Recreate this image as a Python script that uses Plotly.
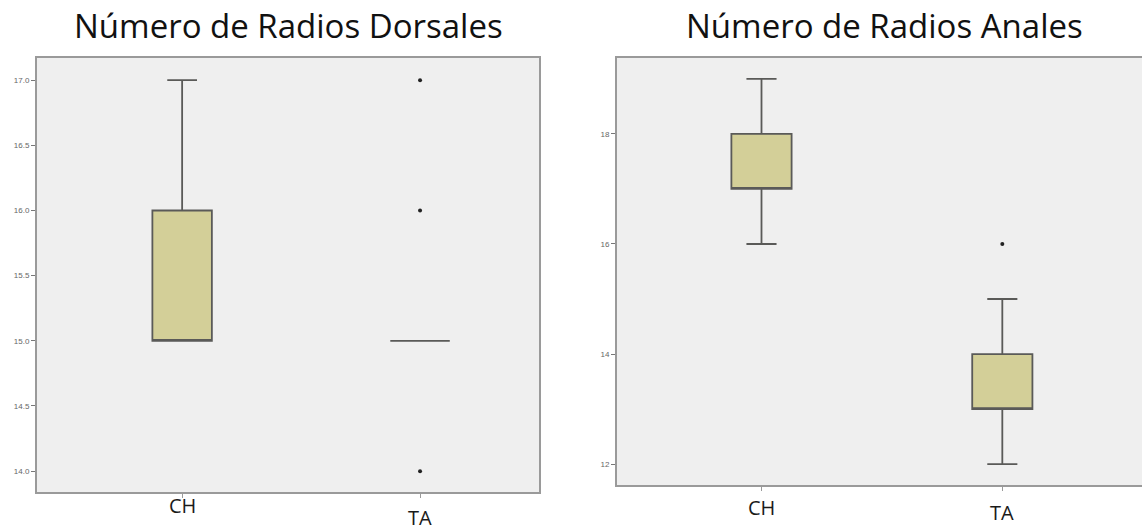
import plotly.graph_objects as go

# Box statistics per group: lower whisker, Q1, median, Q3, upper whisker
groups = ["CH", "TA"]

dorsal_min = [15, 15]
dorsal_q1 = [15, 15]
dorsal_median = [15, 15]
dorsal_q3 = [16, 15]
dorsal_max = [17, 15]
dorsal_outlier_group = ["TA", "TA", "TA"]
dorsal_outlier_value = [17, 16, 14]

anal_min = [16, 12]
anal_q1 = [17, 13]
anal_median = [17, 13]
anal_q3 = [18, 14]
anal_max = [19, 15]
anal_outlier_group = ["TA"]
anal_outlier_value = [16]

dorsal_ticks = [14.0, 14.5, 15.0, 15.5, 16.0, 16.5, 17.0]
anal_ticks = [12, 14, 16, 18]

BOX_FILL = "#D3CF98"
BOX_LINE = "#5a5a58"
BG = "#EFEFEF"
FRAME = "#9a9a9a"

W, H = 1142, 531

fig = go.Figure()

fig.add_trace(go.Box(
    x=groups, q1=dorsal_q1, median=dorsal_median, q3=dorsal_q3,
    lowerfence=dorsal_min, upperfence=dorsal_max,
    fillcolor=BOX_FILL, line=dict(color=BOX_LINE, width=1.8),
    width=0.25, whiskerwidth=0.5, boxpoints=False,
    xaxis="x", yaxis="y", showlegend=False, hoverinfo="skip",
))
fig.add_trace(go.Scatter(
    x=dorsal_outlier_group, y=dorsal_outlier_value, mode="markers",
    marker=dict(color="#222222", size=4), xaxis="x", yaxis="y",
    showlegend=False, hoverinfo="skip",
))

fig.add_trace(go.Box(
    x=groups, q1=anal_q1, median=anal_median, q3=anal_q3,
    lowerfence=anal_min, upperfence=anal_max,
    fillcolor=BOX_FILL, line=dict(color=BOX_LINE, width=1.8),
    width=0.25, whiskerwidth=0.5, boxpoints=False,
    xaxis="x2", yaxis="y2", showlegend=False, hoverinfo="skip",
))
fig.add_trace(go.Scatter(
    x=anal_outlier_group, y=anal_outlier_value, mode="markers",
    marker=dict(color="#222222", size=4), xaxis="x2", yaxis="y2",
    showlegend=False, hoverinfo="skip",
))

tick_font = dict(family="Liberation Sans", size=8, color="#666666")

fig.update_layout(
    width=W, height=H,
    margin=dict(l=0, r=0, t=0, b=0),
    paper_bgcolor="white", plot_bgcolor=BG,
    xaxis=dict(
        domain=[37 / W, 539 / W], anchor="y", type="category",
        categoryorder="array", categoryarray=groups,
        range=[-0.61, 1.5], showticklabels=False,
        ticks="outside", ticklen=4, tickcolor=FRAME,
        showline=True, linecolor=FRAME, linewidth=2, mirror=True,
        showgrid=False, zeroline=False,
    ),
    yaxis=dict(
        domain=[1 - 492 / H, 1 - 58 / H], anchor="x",
        range=[13.84, 17.17], tickvals=dorsal_ticks,
        tickformat=".1f", tickfont=tick_font,
        ticks="outside", ticklen=4, tickcolor="#777777",
        showline=True, linecolor=FRAME, linewidth=2, mirror=True,
        showgrid=False, zeroline=False,
    ),
    xaxis2=dict(
        domain=[617 / W, 1.0], anchor="y2", type="category",
        categoryorder="array", categoryarray=groups,
        range=[-0.60, 1.58], showticklabels=False,
        ticks="outside", ticklen=4, tickcolor=FRAME,
        showline=True, linecolor=FRAME, linewidth=2, mirror=True,
        showgrid=False, zeroline=False,
    ),
    yaxis2=dict(
        domain=[1 - 485 / H, 1 - 58 / H], anchor="x2",
        range=[11.62, 19.38], tickvals=anal_ticks,
        tickfont=tick_font,
        ticks="outside", ticklen=4, tickcolor="#777777",
        showline=True, linecolor=FRAME, linewidth=2, mirror=False,
        showgrid=False, zeroline=False,
    ),
)

title_font = dict(family="Open Sans", size=33, color="#111111")
fig.add_annotation(text="Número de Radios Dorsales", x=288 / W, y=1 - 26 / H,
                   xref="paper", yref="paper", showarrow=False,
                   xanchor="center", yanchor="middle", font=title_font)
fig.add_annotation(text="Número de Radios Anales", x=884 / W, y=1 - 26 / H,
                   xref="paper", yref="paper", showarrow=False,
                   xanchor="center", yanchor="middle", font=title_font)

# Category labels under each panel
label_font = dict(family="Open Sans", size=20, color="#1a1a1a")
for axis, label, ypix in [("x", "CH", 505), ("x", "TA", 517),
                          ("x2", "CH", 507), ("x2", "TA", 512)]:
    fig.add_annotation(text=label, x=label, y=1 - ypix / H, xref=axis,
                       yref="paper", showarrow=False, xanchor="center",
                       yanchor="middle", font=label_font)

fig.write_html("out.html")
